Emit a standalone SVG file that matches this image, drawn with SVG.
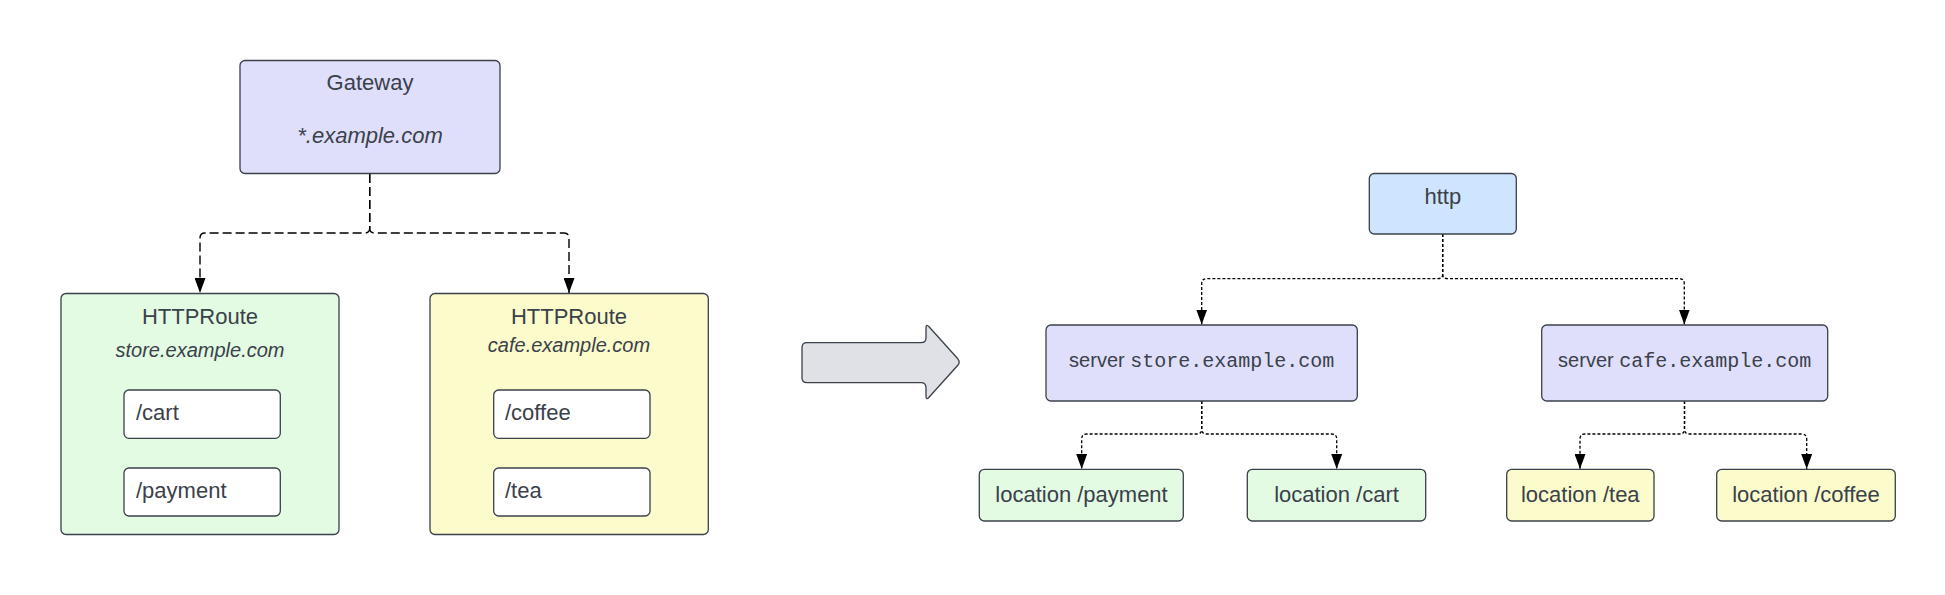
<svg xmlns="http://www.w3.org/2000/svg" width="1945" height="595" viewBox="0 0 1945 595">
<style>
.n{stroke:#3a414a;stroke-width:1.3}
.t{font-family:"Liberation Sans",Arial,sans-serif;font-size:22px;fill:#3a414a}
.i{font-style:italic}
.m{font-family:"Liberation Mono","Courier New",monospace}
.c{text-anchor:middle}
.dash{fill:none;stroke:#000;stroke-width:1.4;stroke-dasharray:9 4}
.dot{fill:none;stroke:#000;stroke-width:1.3;stroke-dasharray:3 2}
</style>
<defs>
<marker id="ah" viewBox="0 0 15 11" refX="15" refY="5.5" markerWidth="15" markerHeight="11" markerUnits="userSpaceOnUse" orient="auto">
<path d="M0,0 L15,5.5 L0,11 Z" fill="#000"/>
</marker>
</defs>
<rect width="1945" height="595" fill="#fff"/>

<g id="connectors">
<path class="dash" d="M369.7,174 V228 Q369.7,233 364.7,233 H205 Q200,233 200,238 V293" marker-end="url(#ah)"/>
<path class="dash" d="M369.7,174 V228 Q369.7,233 374.7,233 H564 Q569,233 569,238 V293" marker-end="url(#ah)"/>
<path class="dot" d="M1442.7,234 V274 Q1442.7,278.7 1437.7,278.7 H1206.7 Q1201.7,278.7 1201.7,283.7 V324.5" marker-end="url(#ah)"/>
<path class="dot" d="M1442.7,234 V274 Q1442.7,278.7 1447.7,278.7 H1679.3 Q1684.3,278.7 1684.3,283.7 V324.5" marker-end="url(#ah)"/>
<path class="dot" d="M1201.7,401 V429 Q1201.7,434 1196.7,434 H1086.7 Q1081.7,434 1081.7,439 V469" marker-end="url(#ah)"/>
<path class="dot" d="M1201.7,401 V429 Q1201.7,434 1206.7,434 H1331.7 Q1336.7,434 1336.7,439 V469" marker-end="url(#ah)"/>
<path class="dot" d="M1684.5,401 V429 Q1684.5,434 1679.5,434 H1585 Q1580,434 1580,439 V469" marker-end="url(#ah)"/>
<path class="dot" d="M1684.5,401 V429 Q1684.5,434 1689.5,434 H1801.7 Q1806.7,434 1806.7,439 V469" marker-end="url(#ah)"/>
</g>

<g id="gateway">
<rect class="n" x="240" y="60.5" width="260" height="113" rx="5" fill="#dfdffc"/>
<text class="t c" x="370" y="90">Gateway</text>
<text class="t c i" x="370" y="143">*.example.com</text>
</g>

<g id="httproute-store">
<rect class="n" x="61" y="293.5" width="278" height="241" rx="5" fill="#e3fae3"/>
<text class="t c" x="200" y="324">HTTPRoute</text>
<text class="t c i" x="200" y="357" style="font-size:20px">store.example.com</text>
<g id="route-cart">
<rect class="n" x="124" y="390" width="156.3" height="48.3" rx="5" fill="#fff"/>
<text class="t" x="136" y="419.5">/cart</text>
</g>
<g id="route-payment">
<rect class="n" x="124" y="468" width="156.3" height="48" rx="5" fill="#fff"/>
<text class="t" x="136" y="497.5">/payment</text>
</g>
</g>

<g id="httproute-cafe">
<rect class="n" x="430" y="293.5" width="278.3" height="241" rx="5" fill="#fbfbcc"/>
<text class="t c" x="569" y="324">HTTPRoute</text>
<text class="t c i" x="569" y="352" style="font-size:20px">cafe.example.com</text>
<g id="route-coffee">
<rect class="n" x="493.7" y="390" width="156.3" height="48.3" rx="5" fill="#fff"/>
<text class="t" x="505" y="419.5">/coffee</text>
</g>
<g id="route-tea">
<rect class="n" x="493.7" y="468" width="156.3" height="48" rx="5" fill="#fff"/>
<text class="t" x="505" y="497.5">/tea</text>
</g>
</g>

<g id="transform-arrow">
<path class="n" fill="#dfe1e6" d="M807,342.7 H921 Q926,342.7 926,337.7 V328 Q926,323.5 929,326.8 L957.8,358.8 Q960.5,362 957.8,365.2 L929,397.2 Q926,400.5 926,396 V387.7 Q926,382.7 921,382.7 H807 Q802,382.7 802,377.7 V347.7 Q802,342.7 807,342.7 Z"/>
</g>

<g id="http">
<rect class="n" x="1369.3" y="173.5" width="147" height="60.5" rx="5" fill="#cfe4ff"/>
<text class="t c" x="1442.8" y="203.5">http</text>
</g>

<g id="server-store">
<rect class="n" x="1046" y="325" width="311.3" height="76" rx="5" fill="#dfdffc"/>
<text class="t c" x="1201.7" y="367" style="font-size:20px">server <tspan class="m">store.example.com</tspan></text>
</g>

<g id="server-cafe">
<rect class="n" x="1541.7" y="325" width="286" height="76" rx="5" fill="#dfdffc"/>
<text class="t c" x="1684.7" y="367" style="font-size:20px">server <tspan class="m">cafe.example.com</tspan></text>
</g>

<g id="location-payment">
<rect class="n" x="979.3" y="469.3" width="204" height="51.7" rx="5" fill="#e3fae3"/>
<text class="t c" x="1081.5" y="502">location /payment</text>
</g>
<g id="location-cart">
<rect class="n" x="1247.3" y="469.3" width="178.4" height="51.7" rx="5" fill="#e3fae3"/>
<text class="t c" x="1336.5" y="502">location /cart</text>
</g>
<g id="location-tea">
<rect class="n" x="1506.7" y="469.3" width="147.3" height="51.7" rx="5" fill="#fbfbcc"/>
<text class="t c" x="1580.3" y="502">location /tea</text>
</g>
<g id="location-coffee">
<rect class="n" x="1716.7" y="469.3" width="178.6" height="51.7" rx="5" fill="#fbfbcc"/>
<text class="t c" x="1806" y="502">location /coffee</text>
</g>
</svg>
